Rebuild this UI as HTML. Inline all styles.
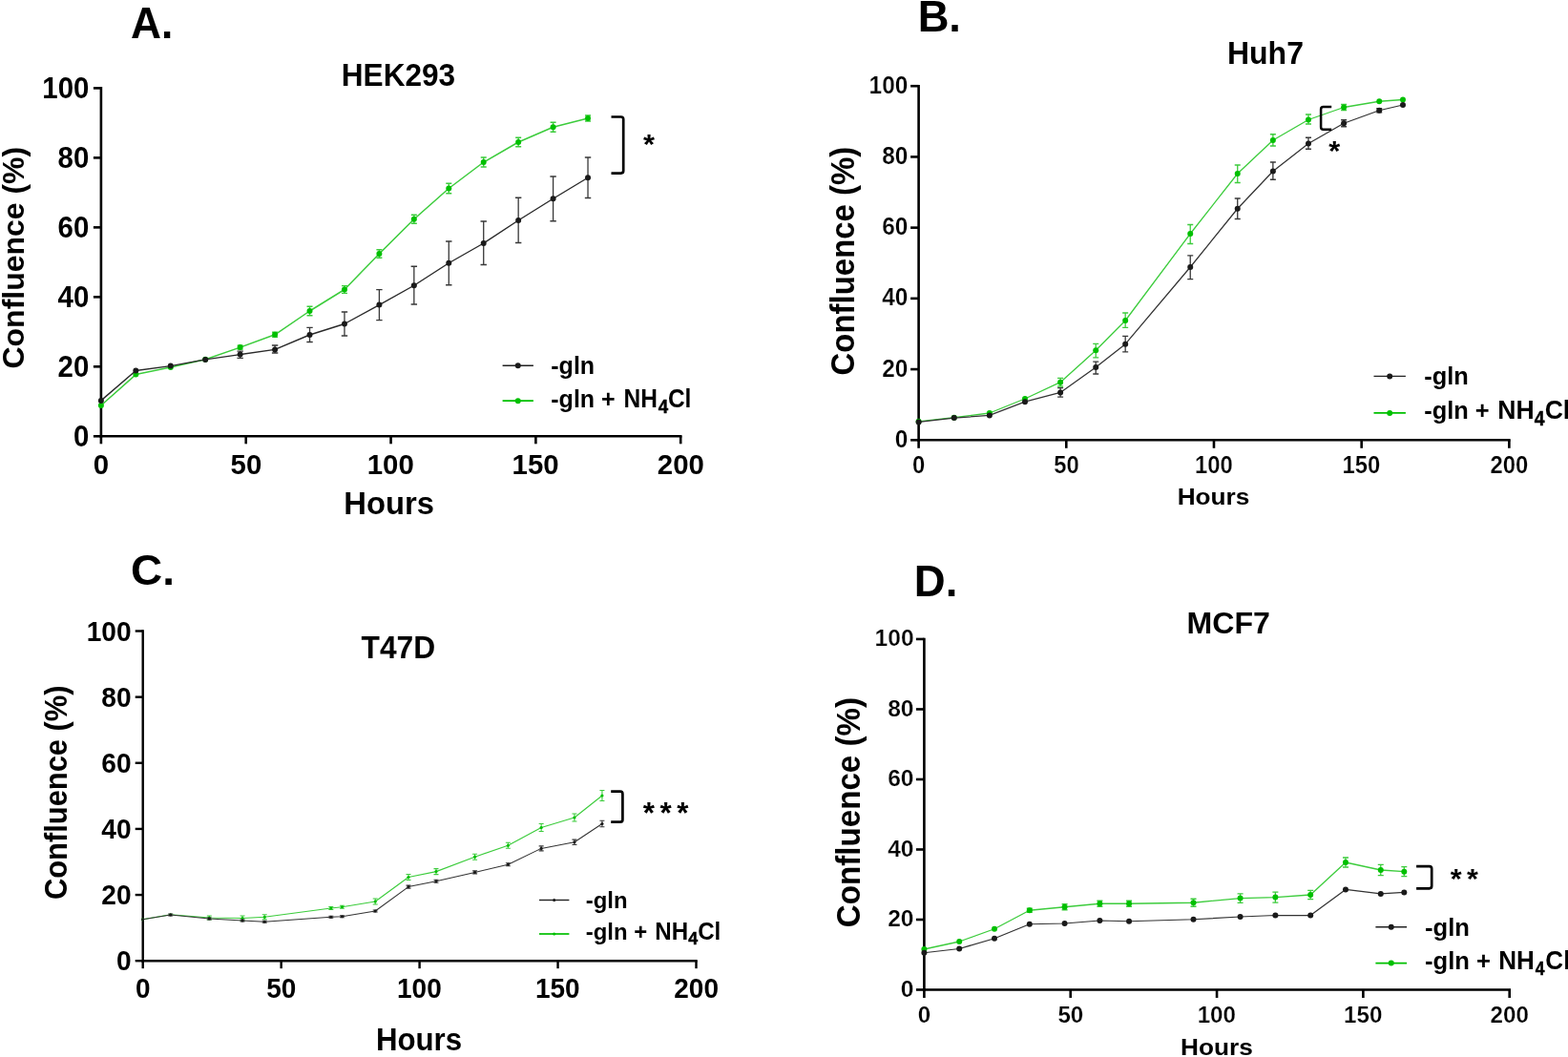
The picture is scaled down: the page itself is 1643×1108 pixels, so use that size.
<!DOCTYPE html>
<html><head><meta charset="utf-8"><style>
html,body{margin:0;padding:0;background:#fff;}
svg{display:block;}
text{font-family:"Liberation Sans", Arial, Helvetica, sans-serif;}
</style></head><body>
<svg width="1643" height="1108" viewBox="0 0 1643 1108">
<rect width="1643" height="1108" fill="#fff"/>
<path d="M105.9,91.1 V457.3 H714.5" fill="none" stroke="#000" stroke-width="2.6" stroke-linejoin="miter"/>
<line x1="97.9" y1="457.3" x2="105.9" y2="457.3" stroke="#000" stroke-width="2.6"/>
<line x1="97.9" y1="384.32" x2="105.9" y2="384.32" stroke="#000" stroke-width="2.6"/>
<line x1="97.9" y1="311.34" x2="105.9" y2="311.34" stroke="#000" stroke-width="2.6"/>
<line x1="97.9" y1="238.36" x2="105.9" y2="238.36" stroke="#000" stroke-width="2.6"/>
<line x1="97.9" y1="165.38" x2="105.9" y2="165.38" stroke="#000" stroke-width="2.6"/>
<line x1="97.9" y1="92.4" x2="105.9" y2="92.4" stroke="#000" stroke-width="2.6"/>
<line x1="105.9" y1="457.3" x2="105.9" y2="465.3" stroke="#000" stroke-width="2.6"/>
<line x1="257.73" y1="457.3" x2="257.73" y2="465.3" stroke="#000" stroke-width="2.6"/>
<line x1="409.55" y1="457.3" x2="409.55" y2="465.3" stroke="#000" stroke-width="2.6"/>
<line x1="561.38" y1="457.3" x2="561.38" y2="465.3" stroke="#000" stroke-width="2.6"/>
<line x1="713.2" y1="457.3" x2="713.2" y2="465.3" stroke="#000" stroke-width="2.6"/>
<line x1="105.9" y1="456" x2="105.9" y2="458.6" stroke="#000" stroke-width="2.6"/>
<text transform="translate(76.94,468.12) scale(0.9650,1)" font-size="30.5" font-weight="bold">0</text>
<text transform="translate(60.61,395.14) scale(0.9650,1)" font-size="30.5" font-weight="bold">20</text>
<text transform="translate(60.61,322.16) scale(0.9650,1)" font-size="30.5" font-weight="bold">40</text>
<text transform="translate(60.61,249.18) scale(0.9650,1)" font-size="30.5" font-weight="bold">60</text>
<text transform="translate(60.61,176.2) scale(0.9650,1)" font-size="30.5" font-weight="bold">80</text>
<text transform="translate(44.27,103.22) scale(0.9650,1)" font-size="30.5" font-weight="bold">100</text>
<text transform="translate(97.74,496.87) scale(0.9770,1)" font-size="30.1" font-weight="bold">0</text>
<text transform="translate(241.55,496.87) scale(0.9770,1)" font-size="30.1" font-weight="bold">50</text>
<text transform="translate(384.77,496.87) scale(0.9770,1)" font-size="30.1" font-weight="bold">100</text>
<text transform="translate(536.6,496.87) scale(0.9770,1)" font-size="30.1" font-weight="bold">150</text>
<text transform="translate(688.79,496.87) scale(0.9770,1)" font-size="30.1" font-weight="bold">200</text>
<polyline points="105.9,425 142.34,392.6 178.78,385.1 215.21,376.7 251.65,364.1 288.09,350.8 324.53,326 360.97,303.5 397.4,266 433.84,229.75 470.28,197.5 506.72,170 543.16,149 579.59,133.25 616.03,124" fill="none" stroke="#3ccc3c" stroke-width="1.5" stroke-linejoin="round"/>
<path d="M251.65,362.1 V366.1 M248.65,362.1 H254.65 M248.65,366.1 H254.65" stroke="#3ccc3c" stroke-width="1.4" fill="none"/>
<path d="M288.09,348.3 V353.3 M285.09,348.3 H291.09 M285.09,353.3 H291.09" stroke="#3ccc3c" stroke-width="1.4" fill="none"/>
<path d="M324.53,321.3 V330.7 M321.53,321.3 H327.53 M321.53,330.7 H327.53" stroke="#3ccc3c" stroke-width="1.4" fill="none"/>
<path d="M360.97,299.6 V307.4 M357.97,299.6 H363.97 M357.97,307.4 H363.97" stroke="#3ccc3c" stroke-width="1.4" fill="none"/>
<path d="M397.4,261.8 V270.2 M394.4,261.8 H400.4 M394.4,270.2 H400.4" stroke="#3ccc3c" stroke-width="1.4" fill="none"/>
<path d="M433.84,225.25 V234.25 M430.84,225.25 H436.84 M430.84,234.25 H436.84" stroke="#3ccc3c" stroke-width="1.4" fill="none"/>
<path d="M470.28,192.3 V202.7 M467.28,192.3 H473.28 M467.28,202.7 H473.28" stroke="#3ccc3c" stroke-width="1.4" fill="none"/>
<path d="M506.72,165 V175 M503.72,165 H509.72 M503.72,175 H509.72" stroke="#3ccc3c" stroke-width="1.4" fill="none"/>
<path d="M543.16,144.3 V153.7 M540.16,144.3 H546.16 M540.16,153.7 H546.16" stroke="#3ccc3c" stroke-width="1.4" fill="none"/>
<path d="M579.59,128.25 V138.25 M576.59,128.25 H582.59 M576.59,138.25 H582.59" stroke="#3ccc3c" stroke-width="1.4" fill="none"/>
<path d="M616.03,121 V127 M613.03,121 H619.03 M613.03,127 H619.03" stroke="#3ccc3c" stroke-width="1.4" fill="none"/>
<circle cx="105.9" cy="425" r="3" fill="#00c000"/>
<circle cx="142.34" cy="392.6" r="3" fill="#00c000"/>
<circle cx="178.78" cy="385.1" r="3" fill="#00c000"/>
<circle cx="215.21" cy="376.7" r="3" fill="#00c000"/>
<circle cx="251.65" cy="364.1" r="3" fill="#00c000"/>
<circle cx="288.09" cy="350.8" r="3" fill="#00c000"/>
<circle cx="324.53" cy="326" r="3" fill="#00c000"/>
<circle cx="360.97" cy="303.5" r="3" fill="#00c000"/>
<circle cx="397.4" cy="266" r="3" fill="#00c000"/>
<circle cx="433.84" cy="229.75" r="3" fill="#00c000"/>
<circle cx="470.28" cy="197.5" r="3" fill="#00c000"/>
<circle cx="506.72" cy="170" r="3" fill="#00c000"/>
<circle cx="543.16" cy="149" r="3" fill="#00c000"/>
<circle cx="579.59" cy="133.25" r="3" fill="#00c000"/>
<circle cx="616.03" cy="124" r="3" fill="#00c000"/>
<polyline points="105.9,419.9 142.34,388.5 178.78,383.6 215.21,376.9 251.65,371.6 288.09,366.4 324.53,351 360.97,339.5 397.4,319.6 433.84,299.25 470.28,275.75 506.72,255 543.16,231 579.59,208.25 616.03,186.25" fill="none" stroke="#2a2a2a" stroke-width="1.4" stroke-linejoin="round"/>
<path d="M251.65,368.2 V375.4 M248.45,368.2 H254.85 M248.45,375.4 H254.85" stroke="#383838" stroke-width="1.3" fill="none"/>
<path d="M288.09,362 V370 M284.89,362 H291.29 M284.89,370 H291.29" stroke="#383838" stroke-width="1.3" fill="none"/>
<path d="M324.53,343.3 V358.5 M321.33,343.3 H327.73 M321.33,358.5 H327.73" stroke="#383838" stroke-width="1.3" fill="none"/>
<path d="M360.97,327 V352 M357.77,327 H364.17 M357.77,352 H364.17" stroke="#383838" stroke-width="1.3" fill="none"/>
<path d="M397.4,303.6 V335.6 M394.2,303.6 H400.6 M394.2,335.6 H400.6" stroke="#383838" stroke-width="1.3" fill="none"/>
<path d="M433.84,279.25 V319 M430.64,279.25 H437.04 M430.64,319 H437.04" stroke="#383838" stroke-width="1.3" fill="none"/>
<path d="M470.28,253 V298.75 M467.08,253 H473.48 M467.08,298.75 H473.48" stroke="#383838" stroke-width="1.3" fill="none"/>
<path d="M506.72,232 V277.5 M503.52,232 H509.92 M503.52,277.5 H509.92" stroke="#383838" stroke-width="1.3" fill="none"/>
<path d="M543.16,207.25 V254.5 M539.96,207.25 H546.36 M539.96,254.5 H546.36" stroke="#383838" stroke-width="1.3" fill="none"/>
<path d="M579.59,185 V231.75 M576.39,185 H582.79 M576.39,231.75 H582.79" stroke="#383838" stroke-width="1.3" fill="none"/>
<path d="M616.03,165 V207.5 M612.83,165 H619.23 M612.83,207.5 H619.23" stroke="#383838" stroke-width="1.3" fill="none"/>
<circle cx="105.9" cy="419.9" r="3" fill="#1a1a1a"/>
<circle cx="142.34" cy="388.5" r="3" fill="#1a1a1a"/>
<circle cx="178.78" cy="383.6" r="3" fill="#1a1a1a"/>
<circle cx="215.21" cy="376.9" r="3" fill="#1a1a1a"/>
<circle cx="251.65" cy="371.6" r="3" fill="#1a1a1a"/>
<circle cx="288.09" cy="366.4" r="3" fill="#1a1a1a"/>
<circle cx="324.53" cy="351" r="3" fill="#1a1a1a"/>
<circle cx="360.97" cy="339.5" r="3" fill="#1a1a1a"/>
<circle cx="397.4" cy="319.6" r="3" fill="#1a1a1a"/>
<circle cx="433.84" cy="299.25" r="3" fill="#1a1a1a"/>
<circle cx="470.28" cy="275.75" r="3" fill="#1a1a1a"/>
<circle cx="506.72" cy="255" r="3" fill="#1a1a1a"/>
<circle cx="543.16" cy="231" r="3" fill="#1a1a1a"/>
<circle cx="579.59" cy="208.25" r="3" fill="#1a1a1a"/>
<circle cx="616.03" cy="186.25" r="3" fill="#1a1a1a"/>
<path d="M962.6,88.9 V461.3 H1582.66" fill="none" stroke="#000" stroke-width="2.6" stroke-linejoin="miter"/>
<line x1="954.1" y1="461.3" x2="962.6" y2="461.3" stroke="#000" stroke-width="2.6"/>
<line x1="954.1" y1="387.08" x2="962.6" y2="387.08" stroke="#000" stroke-width="2.6"/>
<line x1="954.1" y1="312.86" x2="962.6" y2="312.86" stroke="#000" stroke-width="2.6"/>
<line x1="954.1" y1="238.64" x2="962.6" y2="238.64" stroke="#000" stroke-width="2.6"/>
<line x1="954.1" y1="164.42" x2="962.6" y2="164.42" stroke="#000" stroke-width="2.6"/>
<line x1="954.1" y1="90.2" x2="962.6" y2="90.2" stroke="#000" stroke-width="2.6"/>
<line x1="962.6" y1="461.3" x2="962.6" y2="469.8" stroke="#000" stroke-width="2.6"/>
<line x1="1117.29" y1="461.3" x2="1117.29" y2="469.8" stroke="#000" stroke-width="2.6"/>
<line x1="1271.98" y1="461.3" x2="1271.98" y2="469.8" stroke="#000" stroke-width="2.6"/>
<line x1="1426.67" y1="461.3" x2="1426.67" y2="469.8" stroke="#000" stroke-width="2.6"/>
<line x1="1581.36" y1="461.3" x2="1581.36" y2="469.8" stroke="#000" stroke-width="2.6"/>
<line x1="962.6" y1="460" x2="962.6" y2="462.6" stroke="#000" stroke-width="2.6"/>
<text transform="translate(937.71,468.76) scale(0.9740,1)" font-size="25.1" font-weight="bold" stroke="#fff" stroke-width="0.24">0</text>
<text transform="translate(924.14,394.54) scale(0.9740,1)" font-size="25.1" font-weight="bold" stroke="#fff" stroke-width="0.24">20</text>
<text transform="translate(924.14,320.32) scale(0.9740,1)" font-size="25.1" font-weight="bold" stroke="#fff" stroke-width="0.24">40</text>
<text transform="translate(924.14,246.1) scale(0.9740,1)" font-size="25.1" font-weight="bold" stroke="#fff" stroke-width="0.24">60</text>
<text transform="translate(924.14,171.88) scale(0.9740,1)" font-size="25.1" font-weight="bold" stroke="#fff" stroke-width="0.24">80</text>
<text transform="translate(910.57,97.66) scale(0.9740,1)" font-size="25.1" font-weight="bold" stroke="#fff" stroke-width="0.24">100</text>
<text transform="translate(955.98,496.17) scale(0.9500,1)" font-size="25.1" font-weight="bold" stroke="#fff" stroke-width="0.24">0</text>
<text transform="translate(1104.18,496.17) scale(0.9500,1)" font-size="25.1" font-weight="bold" stroke="#fff" stroke-width="0.24">50</text>
<text transform="translate(1251.89,496.17) scale(0.9500,1)" font-size="25.1" font-weight="bold" stroke="#fff" stroke-width="0.24">100</text>
<text transform="translate(1406.58,496.17) scale(0.9500,1)" font-size="25.1" font-weight="bold" stroke="#fff" stroke-width="0.24">150</text>
<text transform="translate(1561.57,496.17) scale(0.9500,1)" font-size="25.1" font-weight="bold" stroke="#fff" stroke-width="0.24">200</text>
<polyline points="962.6,441.8 999.73,437.7 1036.85,433 1073.98,418 1111.1,400.7 1148.23,367.3 1179.17,336 1247.23,245 1296.73,182 1333.86,147 1370.98,125.5 1408.11,112.5 1445.23,106.25 1469.98,104.5" fill="none" stroke="#3ccc3c" stroke-width="1.3" stroke-linejoin="round"/>
<path d="M1111.1,396.4 V405 M1108.1,396.4 H1114.1 M1108.1,405 H1114.1" stroke="#3ccc3c" stroke-width="1.3" fill="none"/>
<path d="M1148.23,360.4 V374.8 M1145.23,360.4 H1151.23 M1145.23,374.8 H1151.23" stroke="#3ccc3c" stroke-width="1.3" fill="none"/>
<path d="M1179.17,328 V343.3 M1176.17,328 H1182.17 M1176.17,343.3 H1182.17" stroke="#3ccc3c" stroke-width="1.3" fill="none"/>
<path d="M1247.23,235.5 V255.5 M1244.23,235.5 H1250.23 M1244.23,255.5 H1250.23" stroke="#3ccc3c" stroke-width="1.3" fill="none"/>
<path d="M1296.73,173 V191.5 M1293.73,173 H1299.73 M1293.73,191.5 H1299.73" stroke="#3ccc3c" stroke-width="1.3" fill="none"/>
<path d="M1333.86,140.75 V153 M1330.86,140.75 H1336.86 M1330.86,153 H1336.86" stroke="#3ccc3c" stroke-width="1.3" fill="none"/>
<path d="M1370.98,120 V130 M1367.98,120 H1373.98 M1367.98,130 H1373.98" stroke="#3ccc3c" stroke-width="1.3" fill="none"/>
<path d="M1408.11,109.5 V115.5 M1405.11,109.5 H1411.11 M1405.11,115.5 H1411.11" stroke="#3ccc3c" stroke-width="1.3" fill="none"/>
<circle cx="962.6" cy="441.8" r="3" fill="#00c000"/>
<circle cx="999.73" cy="437.7" r="3" fill="#00c000"/>
<circle cx="1036.85" cy="433" r="3" fill="#00c000"/>
<circle cx="1073.98" cy="418" r="3" fill="#00c000"/>
<circle cx="1111.1" cy="400.7" r="3" fill="#00c000"/>
<circle cx="1148.23" cy="367.3" r="3" fill="#00c000"/>
<circle cx="1179.17" cy="336" r="3" fill="#00c000"/>
<circle cx="1247.23" cy="245" r="3" fill="#00c000"/>
<circle cx="1296.73" cy="182" r="3" fill="#00c000"/>
<circle cx="1333.86" cy="147" r="3" fill="#00c000"/>
<circle cx="1370.98" cy="125.5" r="3" fill="#00c000"/>
<circle cx="1408.11" cy="112.5" r="3" fill="#00c000"/>
<circle cx="1445.23" cy="106.25" r="3" fill="#00c000"/>
<circle cx="1469.98" cy="104.5" r="3" fill="#00c000"/>
<polyline points="962.6,442.4 999.73,438.1 1036.85,435.4 1073.98,421.2 1111.1,411.4 1148.23,385.1 1179.17,360.7 1247.23,280 1296.73,218.75 1333.86,179.5 1370.98,150.5 1408.11,129.25 1445.23,115.75 1469.98,110" fill="none" stroke="#333" stroke-width="1.25" stroke-linejoin="round"/>
<path d="M1111.1,406.7 V416.1 M1108.1,406.7 H1114.1 M1108.1,416.1 H1114.1" stroke="#383838" stroke-width="1.3" fill="none"/>
<path d="M1148.23,379.1 V392 M1145.23,379.1 H1151.23 M1145.23,392 H1151.23" stroke="#383838" stroke-width="1.3" fill="none"/>
<path d="M1179.17,352.3 V368.8 M1176.17,352.3 H1182.17 M1176.17,368.8 H1182.17" stroke="#383838" stroke-width="1.3" fill="none"/>
<path d="M1247.23,267.8 V292.6 M1244.23,267.8 H1250.23 M1244.23,292.6 H1250.23" stroke="#383838" stroke-width="1.3" fill="none"/>
<path d="M1296.73,208 V229.5 M1293.73,208 H1299.73 M1293.73,229.5 H1299.73" stroke="#383838" stroke-width="1.3" fill="none"/>
<path d="M1333.86,170 V188.25 M1330.86,170 H1336.86 M1330.86,188.25 H1336.86" stroke="#383838" stroke-width="1.3" fill="none"/>
<path d="M1370.98,144.25 V156.25 M1367.98,144.25 H1373.98 M1367.98,156.25 H1373.98" stroke="#383838" stroke-width="1.3" fill="none"/>
<path d="M1408.11,125.75 V132.75 M1405.11,125.75 H1411.11 M1405.11,132.75 H1411.11" stroke="#383838" stroke-width="1.3" fill="none"/>
<path d="M1445.23,113.55 V117.95 M1442.23,113.55 H1448.23 M1442.23,117.95 H1448.23" stroke="#383838" stroke-width="1.3" fill="none"/>
<circle cx="962.6" cy="442.4" r="3" fill="#1a1a1a"/>
<circle cx="999.73" cy="438.1" r="3" fill="#1a1a1a"/>
<circle cx="1036.85" cy="435.4" r="3" fill="#1a1a1a"/>
<circle cx="1073.98" cy="421.2" r="3" fill="#1a1a1a"/>
<circle cx="1111.1" cy="411.4" r="3" fill="#1a1a1a"/>
<circle cx="1148.23" cy="385.1" r="3" fill="#1a1a1a"/>
<circle cx="1179.17" cy="360.7" r="3" fill="#1a1a1a"/>
<circle cx="1247.23" cy="280" r="3" fill="#1a1a1a"/>
<circle cx="1296.73" cy="218.75" r="3" fill="#1a1a1a"/>
<circle cx="1333.86" cy="179.5" r="3" fill="#1a1a1a"/>
<circle cx="1370.98" cy="150.5" r="3" fill="#1a1a1a"/>
<circle cx="1408.11" cy="129.25" r="3" fill="#1a1a1a"/>
<circle cx="1445.23" cy="115.75" r="3" fill="#1a1a1a"/>
<circle cx="1469.98" cy="110" r="3" fill="#1a1a1a"/>
<path d="M149.7,660.3 V1007.2 H730.7" fill="none" stroke="#000" stroke-width="2.4" stroke-linejoin="miter"/>
<line x1="141.7" y1="1007.2" x2="149.7" y2="1007.2" stroke="#000" stroke-width="2.4"/>
<line x1="141.7" y1="938.06" x2="149.7" y2="938.06" stroke="#000" stroke-width="2.4"/>
<line x1="141.7" y1="868.92" x2="149.7" y2="868.92" stroke="#000" stroke-width="2.4"/>
<line x1="141.7" y1="799.78" x2="149.7" y2="799.78" stroke="#000" stroke-width="2.4"/>
<line x1="141.7" y1="730.64" x2="149.7" y2="730.64" stroke="#000" stroke-width="2.4"/>
<line x1="141.7" y1="661.5" x2="149.7" y2="661.5" stroke="#000" stroke-width="2.4"/>
<line x1="149.7" y1="1007.2" x2="149.7" y2="1015.2" stroke="#000" stroke-width="2.4"/>
<line x1="294.65" y1="1007.2" x2="294.65" y2="1015.2" stroke="#000" stroke-width="2.4"/>
<line x1="439.6" y1="1007.2" x2="439.6" y2="1015.2" stroke="#000" stroke-width="2.4"/>
<line x1="584.55" y1="1007.2" x2="584.55" y2="1015.2" stroke="#000" stroke-width="2.4"/>
<line x1="729.5" y1="1007.2" x2="729.5" y2="1015.2" stroke="#000" stroke-width="2.4"/>
<line x1="149.7" y1="1006" x2="149.7" y2="1008.4" stroke="#000" stroke-width="2.4"/>
<text transform="translate(121.93,1017.32) scale(0.9400,1)" font-size="29.9" font-weight="bold">0</text>
<text transform="translate(106.33,948.18) scale(0.9400,1)" font-size="29.9" font-weight="bold">20</text>
<text transform="translate(106.33,879.04) scale(0.9400,1)" font-size="29.9" font-weight="bold">40</text>
<text transform="translate(106.33,809.9) scale(0.9400,1)" font-size="29.9" font-weight="bold">60</text>
<text transform="translate(106.33,740.76) scale(0.9400,1)" font-size="29.9" font-weight="bold">80</text>
<text transform="translate(90.73,671.62) scale(0.9400,1)" font-size="29.9" font-weight="bold">100</text>
<text transform="translate(141.94,1046.01) scale(0.9550,1)" font-size="29.3" font-weight="bold">0</text>
<text transform="translate(279.26,1046.01) scale(0.9550,1)" font-size="29.3" font-weight="bold">50</text>
<text transform="translate(416.03,1046.01) scale(0.9550,1)" font-size="29.3" font-weight="bold">100</text>
<text transform="translate(560.98,1046.01) scale(0.9550,1)" font-size="29.3" font-weight="bold">150</text>
<text transform="translate(706.28,1046.01) scale(0.9550,1)" font-size="29.3" font-weight="bold">200</text>
<polyline points="149.7,963.75 178.69,958.75 219.28,962 254.06,962.5 277.26,961.25 346.83,952 358.43,950.75 393.22,945 428,919.5 456.99,913.6 497.58,898.2 532.37,886.3 567.16,867.5 601.94,857 630.93,834" fill="none" stroke="#3ccc3c" stroke-width="1.15" stroke-linejoin="round"/>
<path d="M219.28,960 V964 M216.78,960 H221.78 M216.78,964 H221.78" stroke="#3ccc3c" stroke-width="1.1" fill="none"/>
<path d="M254.06,960 V965 M251.56,960 H256.56 M251.56,965 H256.56" stroke="#3ccc3c" stroke-width="1.1" fill="none"/>
<path d="M277.26,958.75 V963.75 M274.76,958.75 H279.76 M274.76,963.75 H279.76" stroke="#3ccc3c" stroke-width="1.1" fill="none"/>
<path d="M346.83,950.5 V953.5 M344.33,950.5 H349.33 M344.33,953.5 H349.33" stroke="#3ccc3c" stroke-width="1.1" fill="none"/>
<path d="M358.43,949.25 V952.25 M355.93,949.25 H360.93 M355.93,952.25 H360.93" stroke="#3ccc3c" stroke-width="1.1" fill="none"/>
<path d="M393.22,942 V948 M390.72,942 H395.72 M390.72,948 H395.72" stroke="#3ccc3c" stroke-width="1.1" fill="none"/>
<path d="M428,916.5 V922.5 M425.5,916.5 H430.5 M425.5,922.5 H430.5" stroke="#3ccc3c" stroke-width="1.1" fill="none"/>
<path d="M456.99,910.6 V916.6 M454.49,910.6 H459.49 M454.49,916.6 H459.49" stroke="#3ccc3c" stroke-width="1.1" fill="none"/>
<path d="M497.58,895.2 V901.2 M495.08,895.2 H500.08 M495.08,901.2 H500.08" stroke="#3ccc3c" stroke-width="1.1" fill="none"/>
<path d="M532.37,883.3 V889.3 M529.87,883.3 H534.87 M529.87,889.3 H534.87" stroke="#3ccc3c" stroke-width="1.1" fill="none"/>
<path d="M567.16,863.5 V871.5 M564.66,863.5 H569.66 M564.66,871.5 H569.66" stroke="#3ccc3c" stroke-width="1.1" fill="none"/>
<path d="M601.94,853 V861 M599.44,853 H604.44 M599.44,861 H604.44" stroke="#3ccc3c" stroke-width="1.1" fill="none"/>
<path d="M630.93,828.5 V839.5 M628.43,828.5 H633.43 M628.43,839.5 H633.43" stroke="#3ccc3c" stroke-width="1.1" fill="none"/>
<circle cx="149.7" cy="963.75" r="1.6" fill="#00c000"/>
<circle cx="178.69" cy="958.75" r="1.6" fill="#00c000"/>
<circle cx="219.28" cy="962" r="1.6" fill="#00c000"/>
<circle cx="254.06" cy="962.5" r="1.6" fill="#00c000"/>
<circle cx="277.26" cy="961.25" r="1.6" fill="#00c000"/>
<circle cx="346.83" cy="952" r="1.6" fill="#00c000"/>
<circle cx="358.43" cy="950.75" r="1.6" fill="#00c000"/>
<circle cx="393.22" cy="945" r="1.6" fill="#00c000"/>
<circle cx="428" cy="919.5" r="1.6" fill="#00c000"/>
<circle cx="456.99" cy="913.6" r="1.6" fill="#00c000"/>
<circle cx="497.58" cy="898.2" r="1.6" fill="#00c000"/>
<circle cx="532.37" cy="886.3" r="1.6" fill="#00c000"/>
<circle cx="567.16" cy="867.5" r="1.6" fill="#00c000"/>
<circle cx="601.94" cy="857" r="1.6" fill="#00c000"/>
<circle cx="630.93" cy="834" r="1.6" fill="#00c000"/>
<polyline points="149.7,963.75 178.69,959 219.28,963 254.06,965 277.26,966.25 346.83,961.25 358.43,960.75 393.22,955 428,929.6 456.99,923.8 497.58,914.4 532.37,906.2 567.16,889.4 601.94,882.8 630.93,863.5" fill="none" stroke="#333" stroke-width="1.05" stroke-linejoin="round"/>
<path d="M178.69,958 V960 M176.19,958 H181.19 M176.19,960 H181.19" stroke="#383838" stroke-width="1.1" fill="none"/>
<path d="M219.28,962 V964 M216.78,962 H221.78 M216.78,964 H221.78" stroke="#383838" stroke-width="1.1" fill="none"/>
<path d="M254.06,964 V966 M251.56,964 H256.56 M251.56,966 H256.56" stroke="#383838" stroke-width="1.1" fill="none"/>
<path d="M277.26,965.25 V967.25 M274.76,965.25 H279.76 M274.76,967.25 H279.76" stroke="#383838" stroke-width="1.1" fill="none"/>
<path d="M346.83,960.25 V962.25 M344.33,960.25 H349.33 M344.33,962.25 H349.33" stroke="#383838" stroke-width="1.1" fill="none"/>
<path d="M358.43,959.75 V961.75 M355.93,959.75 H360.93 M355.93,961.75 H360.93" stroke="#383838" stroke-width="1.1" fill="none"/>
<path d="M393.22,954 V956 M390.72,954 H395.72 M390.72,956 H395.72" stroke="#383838" stroke-width="1.1" fill="none"/>
<path d="M428,928.1 V931.1 M425.5,928.1 H430.5 M425.5,931.1 H430.5" stroke="#383838" stroke-width="1.1" fill="none"/>
<path d="M456.99,922.3 V925.3 M454.49,922.3 H459.49 M454.49,925.3 H459.49" stroke="#383838" stroke-width="1.1" fill="none"/>
<path d="M497.58,912.9 V915.9 M495.08,912.9 H500.08 M495.08,915.9 H500.08" stroke="#383838" stroke-width="1.1" fill="none"/>
<path d="M532.37,904.7 V907.7 M529.87,904.7 H534.87 M529.87,907.7 H534.87" stroke="#383838" stroke-width="1.1" fill="none"/>
<path d="M567.16,886.9 V891.9 M564.66,886.9 H569.66 M564.66,891.9 H569.66" stroke="#383838" stroke-width="1.1" fill="none"/>
<path d="M601.94,880.1 V885.5 M599.44,880.1 H604.44 M599.44,885.5 H604.44" stroke="#383838" stroke-width="1.1" fill="none"/>
<path d="M630.93,860.3 V866.7 M628.43,860.3 H633.43 M628.43,866.7 H633.43" stroke="#383838" stroke-width="1.1" fill="none"/>
<circle cx="149.7" cy="963.75" r="1.6" fill="#1a1a1a"/>
<circle cx="178.69" cy="959" r="1.6" fill="#1a1a1a"/>
<circle cx="219.28" cy="963" r="1.6" fill="#1a1a1a"/>
<circle cx="254.06" cy="965" r="1.6" fill="#1a1a1a"/>
<circle cx="277.26" cy="966.25" r="1.6" fill="#1a1a1a"/>
<circle cx="346.83" cy="961.25" r="1.6" fill="#1a1a1a"/>
<circle cx="358.43" cy="960.75" r="1.6" fill="#1a1a1a"/>
<circle cx="393.22" cy="955" r="1.6" fill="#1a1a1a"/>
<circle cx="428" cy="929.6" r="1.6" fill="#1a1a1a"/>
<circle cx="456.99" cy="923.8" r="1.6" fill="#1a1a1a"/>
<circle cx="497.58" cy="914.4" r="1.6" fill="#1a1a1a"/>
<circle cx="532.37" cy="906.2" r="1.6" fill="#1a1a1a"/>
<circle cx="567.16" cy="889.4" r="1.6" fill="#1a1a1a"/>
<circle cx="601.94" cy="882.8" r="1.6" fill="#1a1a1a"/>
<circle cx="630.93" cy="863.5" r="1.6" fill="#1a1a1a"/>
<path d="M968.4,668.65 V1037.5 H1583" fill="none" stroke="#000" stroke-width="2.6" stroke-linejoin="miter"/>
<line x1="959.9" y1="1037.5" x2="968.4" y2="1037.5" stroke="#000" stroke-width="2.6"/>
<line x1="959.9" y1="963.99" x2="968.4" y2="963.99" stroke="#000" stroke-width="2.6"/>
<line x1="959.9" y1="890.48" x2="968.4" y2="890.48" stroke="#000" stroke-width="2.6"/>
<line x1="959.9" y1="816.97" x2="968.4" y2="816.97" stroke="#000" stroke-width="2.6"/>
<line x1="959.9" y1="743.46" x2="968.4" y2="743.46" stroke="#000" stroke-width="2.6"/>
<line x1="959.9" y1="669.95" x2="968.4" y2="669.95" stroke="#000" stroke-width="2.6"/>
<line x1="968.4" y1="1037.5" x2="968.4" y2="1046" stroke="#000" stroke-width="2.6"/>
<line x1="1121.72" y1="1037.5" x2="1121.72" y2="1046" stroke="#000" stroke-width="2.6"/>
<line x1="1275.05" y1="1037.5" x2="1275.05" y2="1046" stroke="#000" stroke-width="2.6"/>
<line x1="1428.38" y1="1037.5" x2="1428.38" y2="1046" stroke="#000" stroke-width="2.6"/>
<line x1="1581.7" y1="1037.5" x2="1581.7" y2="1046" stroke="#000" stroke-width="2.6"/>
<line x1="968.4" y1="1036.2" x2="968.4" y2="1038.8" stroke="#000" stroke-width="2.6"/>
<text transform="translate(943.83,1044.89)" font-size="24.6" font-weight="bold" stroke="#fff" stroke-width="0.24">0</text>
<text transform="translate(930.18,971.38)" font-size="24.6" font-weight="bold" stroke="#fff" stroke-width="0.24">20</text>
<text transform="translate(930.18,897.87)" font-size="24.6" font-weight="bold" stroke="#fff" stroke-width="0.24">40</text>
<text transform="translate(930.18,824.36)" font-size="24.6" font-weight="bold" stroke="#fff" stroke-width="0.24">60</text>
<text transform="translate(930.18,750.85)" font-size="24.6" font-weight="bold" stroke="#fff" stroke-width="0.24">80</text>
<text transform="translate(916.52,677.34)" font-size="24.6" font-weight="bold" stroke="#fff" stroke-width="0.24">100</text>
<text transform="translate(961.68,1071.95) scale(1.0300,1)" font-size="23.5" font-weight="bold" stroke="#fff" stroke-width="0.24">0</text>
<text transform="translate(1108.41,1071.95) scale(1.0300,1)" font-size="23.5" font-weight="bold" stroke="#fff" stroke-width="0.24">50</text>
<text transform="translate(1254.66,1071.95) scale(1.0300,1)" font-size="23.5" font-weight="bold" stroke="#fff" stroke-width="0.24">100</text>
<text transform="translate(1407.98,1071.95) scale(1.0300,1)" font-size="23.5" font-weight="bold" stroke="#fff" stroke-width="0.24">150</text>
<text transform="translate(1561.61,1071.95) scale(1.0300,1)" font-size="23.5" font-weight="bold" stroke="#fff" stroke-width="0.24">200</text>
<polyline points="968.4,995 1005.2,987 1042,973.75 1078.79,954.25 1115.59,950.75 1152.39,947.25 1183.06,947.25 1250.52,946.25 1299.58,941.6 1336.38,940.6 1373.18,938 1409.98,904 1446.77,912 1471.31,913.7" fill="none" stroke="#3ccc3c" stroke-width="1.3" stroke-linejoin="round"/>
<path d="M1078.79,952.25 V956.25 M1075.79,952.25 H1081.79 M1075.79,956.25 H1081.79" stroke="#3ccc3c" stroke-width="1.3" fill="none"/>
<path d="M1115.59,947.75 V953.75 M1112.59,947.75 H1118.59 M1112.59,953.75 H1118.59" stroke="#3ccc3c" stroke-width="1.3" fill="none"/>
<path d="M1152.39,944.25 V950.25 M1149.39,944.25 H1155.39 M1149.39,950.25 H1155.39" stroke="#3ccc3c" stroke-width="1.3" fill="none"/>
<path d="M1183.06,944.25 V950.25 M1180.06,944.25 H1186.06 M1180.06,950.25 H1186.06" stroke="#3ccc3c" stroke-width="1.3" fill="none"/>
<path d="M1250.52,942.25 V950.25 M1247.52,942.25 H1253.52 M1247.52,950.25 H1253.52" stroke="#3ccc3c" stroke-width="1.3" fill="none"/>
<path d="M1299.58,936.8 V946.4 M1296.58,936.8 H1302.58 M1296.58,946.4 H1302.58" stroke="#3ccc3c" stroke-width="1.3" fill="none"/>
<path d="M1336.38,935.1 V946.1 M1333.38,935.1 H1339.38 M1333.38,946.1 H1339.38" stroke="#3ccc3c" stroke-width="1.3" fill="none"/>
<path d="M1373.18,933.4 V942.6 M1370.18,933.4 H1376.18 M1370.18,942.6 H1376.18" stroke="#3ccc3c" stroke-width="1.3" fill="none"/>
<path d="M1409.98,899 V909 M1406.98,899 H1412.98 M1406.98,909 H1412.98" stroke="#3ccc3c" stroke-width="1.3" fill="none"/>
<path d="M1446.77,906.3 V917.7 M1443.77,906.3 H1449.77 M1443.77,917.7 H1449.77" stroke="#3ccc3c" stroke-width="1.3" fill="none"/>
<path d="M1471.31,908.7 V918.7 M1468.31,908.7 H1474.31 M1468.31,918.7 H1474.31" stroke="#3ccc3c" stroke-width="1.3" fill="none"/>
<circle cx="968.4" cy="995" r="3" fill="#00c000"/>
<circle cx="1005.2" cy="987" r="3" fill="#00c000"/>
<circle cx="1042" cy="973.75" r="3" fill="#00c000"/>
<circle cx="1078.79" cy="954.25" r="3" fill="#00c000"/>
<circle cx="1115.59" cy="950.75" r="3" fill="#00c000"/>
<circle cx="1152.39" cy="947.25" r="3" fill="#00c000"/>
<circle cx="1183.06" cy="947.25" r="3" fill="#00c000"/>
<circle cx="1250.52" cy="946.25" r="3" fill="#00c000"/>
<circle cx="1299.58" cy="941.6" r="3" fill="#00c000"/>
<circle cx="1336.38" cy="940.6" r="3" fill="#00c000"/>
<circle cx="1373.18" cy="938" r="3" fill="#00c000"/>
<circle cx="1409.98" cy="904" r="3" fill="#00c000"/>
<circle cx="1446.77" cy="912" r="3" fill="#00c000"/>
<circle cx="1471.31" cy="913.7" r="3" fill="#00c000"/>
<polyline points="968.4,998.75 1005.2,994.5 1042,983.75 1078.79,968.75 1115.59,968 1152.39,965 1183.06,965.75 1250.52,963.75 1299.58,961 1336.38,959.5 1373.18,959.5 1409.98,932.4 1446.77,936.9 1471.31,935.4" fill="none" stroke="#333" stroke-width="1.25" stroke-linejoin="round"/>
<circle cx="968.4" cy="998.75" r="3" fill="#1a1a1a"/>
<circle cx="1005.2" cy="994.5" r="3" fill="#1a1a1a"/>
<circle cx="1042" cy="983.75" r="3" fill="#1a1a1a"/>
<circle cx="1078.79" cy="968.75" r="3" fill="#1a1a1a"/>
<circle cx="1115.59" cy="968" r="3" fill="#1a1a1a"/>
<circle cx="1152.39" cy="965" r="3" fill="#1a1a1a"/>
<circle cx="1183.06" cy="965.75" r="3" fill="#1a1a1a"/>
<circle cx="1250.52" cy="963.75" r="3" fill="#1a1a1a"/>
<circle cx="1299.58" cy="961" r="3" fill="#1a1a1a"/>
<circle cx="1336.38" cy="959.5" r="3" fill="#1a1a1a"/>
<circle cx="1373.18" cy="959.5" r="3" fill="#1a1a1a"/>
<circle cx="1409.98" cy="932.4" r="3" fill="#1a1a1a"/>
<circle cx="1446.77" cy="936.9" r="3" fill="#1a1a1a"/>
<circle cx="1471.31" cy="935.4" r="3" fill="#1a1a1a"/>
<text transform="translate(136.89,40.2) scale(0.9465,1)" font-size="46.81" font-weight="bold" fill="#000">A.</text>
<text transform="translate(961.65,33) scale(0.9895,1)" font-size="45.8" font-weight="bold" fill="#000">B.</text>
<text transform="translate(136.96,613.05) scale(1.0325,1)" font-size="44.51" font-weight="bold" fill="#000">C.</text>
<text transform="translate(957.84,624.7) scale(0.9946,1)" font-size="45.8" font-weight="bold" fill="#000">D.</text>
<text transform="translate(357.75,89.88) scale(0.9756,1)" font-size="32.39" font-weight="bold" fill="#000">HEK293</text>
<text transform="translate(1285.92,66.88) scale(0.9890,1)" font-size="32.38" font-weight="bold" fill="#000">Huh7</text>
<text transform="translate(378.58,690) scale(0.9731,1)" font-size="32.61" font-weight="bold" fill="#000">T47D</text>
<text transform="translate(1243.51,664.38)" font-size="32.11" font-weight="bold" fill="#000">MCF7</text>
<text transform="translate(360.27,538.96) scale(0.9642,1)" font-size="34" font-weight="bold" fill="#000">Hours</text>
<text transform="translate(1233.7,529.36) scale(1.1053,1)" font-size="23.71" font-weight="bold" fill="#000">Hours</text>
<text transform="translate(393.97,1101.47) scale(0.9580,1)" font-size="32.57" font-weight="bold" fill="#000">Hours</text>
<text transform="translate(1237.1,1105.55) scale(1.0606,1)" font-size="24.71" font-weight="bold" fill="#000">Hours</text>
<text transform="translate(25.01,386.48) rotate(-90) scale(1.0032,1)" font-size="31.87" font-weight="bold">Confluence (%)</text>
<text transform="translate(895.32,393.42) rotate(-90) scale(0.9251,1)" font-size="35.61" font-weight="bold">Confluence (%)</text>
<text transform="translate(70.39,943.04) rotate(-90) scale(0.9253,1)" font-size="33.37" font-weight="bold">Confluence (%)</text>
<text transform="translate(900.9,972.13) rotate(-90) scale(0.9535,1)" font-size="34.76" font-weight="bold">Confluence (%)</text>
<line x1="526.6" y1="383.3" x2="558.9" y2="383.3" stroke="#222" stroke-width="1.4"/>
<circle cx="542.75" cy="383.3" r="3" fill="#1a1a1a"/>
<line x1="526.6" y1="420.2" x2="558.9" y2="420.2" stroke="#00c000" stroke-width="1.7"/>
<circle cx="542.75" cy="420.2" r="3" fill="#00c000"/>
<text x="577.3" y="391.5" font-size="25" font-weight="bold">-gln</text>
<text x="577.3" y="426.5" font-size="25" font-weight="bold">-gln +</text>
<text transform="translate(653.51,426.5) scale(0.9139,1)" font-size="26.81" font-weight="bold">NH</text>
<text transform="translate(689.72,432.6) scale(0.9279,1)" font-size="20.14" font-weight="bold" fill="#000" stroke="#000" stroke-width="0.5">4</text>
<text transform="translate(699.92,426.5) scale(0.9139,1)" font-size="26.81" font-weight="bold">Cl</text>
<line x1="1439.5" y1="394.4" x2="1472.9" y2="394.4" stroke="#222" stroke-width="1.4"/>
<circle cx="1456.2" cy="394.4" r="3" fill="#1a1a1a"/>
<line x1="1439.5" y1="432.9" x2="1472.9" y2="432.9" stroke="#00c000" stroke-width="1.7"/>
<circle cx="1456.2" cy="432.9" r="3" fill="#00c000"/>
<text x="1492.18" y="403.2" font-size="25.4" font-weight="bold">-gln</text>
<text x="1492.18" y="438.9" font-size="25.4" font-weight="bold">-gln +</text>
<text transform="translate(1569.27,438.9) scale(0.9750,1)" font-size="27.25" font-weight="bold">NH</text>
<text transform="translate(1607.71,445.7) scale(0.8916,1)" font-size="21.59" font-weight="bold" fill="#000" stroke="#000" stroke-width="0.5">4</text>
<text transform="translate(1618.64,438.9) scale(0.9750,1)" font-size="27.25" font-weight="bold">Cl</text>
<line x1="565" y1="943.5" x2="596.4" y2="943.5" stroke="#222" stroke-width="1.4"/>
<circle cx="580.7" cy="943.5" r="1.6" fill="#1a1a1a"/>
<line x1="565" y1="979" x2="596.4" y2="979" stroke="#00c000" stroke-width="1.7"/>
<circle cx="580.7" cy="979" r="1.6" fill="#00c000"/>
<text x="613.74" y="951.6" font-size="23.9" font-weight="bold">-gln</text>
<text x="613.74" y="984.5" font-size="23.9" font-weight="bold">-gln +</text>
<text transform="translate(686.23,984.5) scale(0.9677,1)" font-size="24.93" font-weight="bold">NH</text>
<text transform="translate(721.33,989.7) scale(1.0043,1)" font-size="17.68" font-weight="bold" fill="#000" stroke="#000" stroke-width="0.5">4</text>
<text transform="translate(731.14,984.5) scale(0.9677,1)" font-size="24.93" font-weight="bold">Cl</text>
<line x1="1441.4" y1="971.8" x2="1474.1" y2="971.8" stroke="#222" stroke-width="1.4"/>
<circle cx="1457.75" cy="971.8" r="3" fill="#1a1a1a"/>
<line x1="1441.4" y1="1009.6" x2="1474.1" y2="1009.6" stroke="#00c000" stroke-width="1.7"/>
<circle cx="1457.75" cy="1009.6" r="3" fill="#00c000"/>
<text x="1493.08" y="980.6" font-size="25.6" font-weight="bold">-gln</text>
<text x="1493.08" y="1015.9" font-size="25.6" font-weight="bold">-gln +</text>
<text transform="translate(1570.31,1015.9) scale(0.9709,1)" font-size="26.81" font-weight="bold">NH</text>
<text transform="translate(1608.74,1021.7) scale(0.8819,1)" font-size="19.71" font-weight="bold" fill="#000" stroke="#000" stroke-width="0.5">4</text>
<text transform="translate(1619.36,1015.9) scale(0.9709,1)" font-size="26.81" font-weight="bold">Cl</text>
<path d="M640.5,122.5 H650.7 Q653.2,122.5 653.2,125 V179.1 Q653.2,181.6 650.7,181.6 H640.5" fill="none" stroke="#000" stroke-width="2.7" stroke-linejoin="round"/>
<path d="M1395.2,112 H1386.6 Q1384.1,112 1384.1,114.5 V133.3 Q1384.1,135.8 1386.6,135.8 H1395.2" fill="none" stroke="#000" stroke-width="2.5" stroke-linejoin="round"/>
<path d="M640.2,829.7 H649.9 Q652.4,829.7 652.4,832.2 V859.2 Q652.4,861.7 649.9,861.7 H640.2" fill="none" stroke="#000" stroke-width="2.7" stroke-linejoin="round"/>
<path d="M1484.1,908.2 H1497.7 Q1500.2,908.2 1500.2,910.7 V928.8 Q1500.2,931.3 1497.7,931.3 H1484.1" fill="none" stroke="#000" stroke-width="2.7" stroke-linejoin="round"/>
<text transform="translate(674.05,161.04) scale(1.0548,1)" font-size="29.19" font-weight="bold" fill="#000">*</text>
<text transform="translate(1392.15,167.79) scale(1.0172,1)" font-size="30.27" font-weight="bold" fill="#000">*</text>
<text transform="translate(673.84,862.97) scale(1.0254,1)" font-size="30.54" font-weight="bold" fill="#000">*</text>
<text transform="translate(691.44,862.97) scale(1.0254,1)" font-size="30.54" font-weight="bold" fill="#000">*</text>
<text transform="translate(709.14,862.97) scale(1.0254,1)" font-size="30.54" font-weight="bold" fill="#000">*</text>
<text transform="translate(1519.65,931.41) scale(1.0268,1)" font-size="29.73" font-weight="bold" fill="#000">*</text>
<text transform="translate(1537.05,931.41) scale(1.0268,1)" font-size="29.73" font-weight="bold" fill="#000">*</text>
</svg></body></html>
